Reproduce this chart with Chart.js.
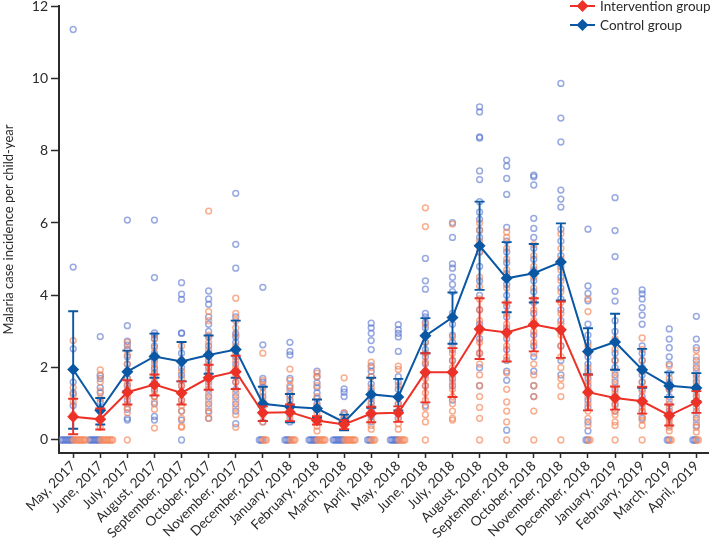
<!DOCTYPE html>
<html>
<head>
<meta charset="utf-8">
<script src="https://cdn.jsdelivr.net/npm/chart.js@4.4.1/dist/chart.umd.min.js"></script>
<style>
  html, body { margin: 0; padding: 0; background: #fff; }
  #wrap { position: relative; width: 714px; height: 542px; overflow: hidden; }
  #legend { position: absolute; left: 570px; top: -4px; font-family: Lato, sans-serif; font-size: 13.5px; color: #2a2a2a; }
  .row { display: flex; align-items: center; height: 19.5px; white-space: nowrap; }
  .row svg { margin-right: 5px; }
</style>
</head>
<body>
<div id="wrap">
  <canvas id="c" width="714" height="542"></canvas>
  <div id="legend"></div>
</div>
<script>
const categories = ['May, 2017','June, 2017','July, 2017','August, 2017','September, 2017','October, 2017','November, 2017','December, 2017','January, 2018','February, 2018','March, 2018','April, 2018','May, 2018','June, 2018','July, 2018','August, 2018','September, 2018','October, 2018','November, 2018','December, 2018','January, 2019','February, 2019','March, 2019','April, 2019'];
const yTicks = [0, 2, 4, 6, 8, 10, 12];
const seriesNames = ['Intervention group', 'Control group'];
const yTitle = 'Malaria case incidence per child-year';

const interventionMean = [0.64,0.57,1.32,1.53,1.30,1.72,1.89,0.75,0.77,0.54,0.43,0.73,0.75,1.87,1.87,3.07,2.97,3.19,3.05,1.32,1.16,1.07,0.68,1.04];
const interventionLow  = [0.16,0.29,0.98,1.23,0.98,1.39,1.41,0.52,0.52,0.43,0.30,0.49,0.50,1.04,1.19,2.24,2.17,2.45,2.27,0.82,0.84,0.73,0.40,0.75];
const interventionHigh = [1.14,0.87,1.65,1.81,1.62,2.08,2.33,0.93,0.98,0.66,0.55,0.92,0.93,2.40,2.54,3.92,3.80,3.92,3.83,1.81,1.48,1.47,0.98,1.35];

const controlMean = [1.95,0.82,1.89,2.31,2.17,2.35,2.50,1.00,0.92,0.87,0.49,1.26,1.19,2.88,3.39,5.37,4.47,4.61,4.92,2.45,2.71,1.94,1.50,1.44];
const controlLow  = [0.31,0.43,1.35,1.72,1.62,1.83,1.72,0.52,0.49,0.61,0.27,0.89,0.82,2.40,2.66,4.15,3.53,3.80,3.86,1.81,1.94,1.44,1.19,1.07];
const controlHigh = [3.56,1.16,2.47,2.94,2.71,2.89,3.30,1.47,1.27,1.12,0.70,1.72,1.69,3.37,4.08,6.59,5.47,5.42,5.99,3.09,3.49,2.52,1.87,1.85];

// Individual cluster incidences per month
const controlClusters = [
  [11.35,4.78,2.52,1.6,1.3,0.95,0,0,0,0,0,0,0,0,0],
  [2.86,1.78,1.7,1.45,1.3,1.05,0.8,0,0,0,0,0,0,0,0],
  [6.08,3.16,2.73,2.62,2.5,2.3,2.1,1.9,1.7,1.5,1.3,1.1,0.85,0.6,0.55],
  [6.08,4.49,2.96,2.9,2.8,2.6,2.4,2.2,2.0,1.85,1.6,1.4,1.2,1.0,0.65,0.55],
  [4.35,4.03,3.89,2.96,2.95,2.4,2.2,2.0,1.8,1.5,1.3,1.1,0.8,0.55,0],
  [4.12,3.9,3.75,3.4,3.2,3.0,2.85,2.6,2.4,2.2,2.0,1.8,1.6,1.4,1.2,1.0,0.8,0.6],
  [6.82,5.41,4.75,3.4,2.95,2.85,2.7,2.5,2.3,2.1,1.9,1.6,1.4,1.2,1.0,0.8,0.45],
  [4.22,2.63,1.7,1.6,1.45,1.2,1.0,0.75,0.5,0,0,0],
  [2.70,2.45,2.35,1.7,1.45,1.25,1.1,0.9,0.7,0.5,0,0,0,0],
  [1.9,1.75,1.58,1.45,1.3,1.15,1.0,0.85,0,0,0,0,0,0],
  [1.41,1.32,1.2,0.75,0.7,0.62,0.55,0.45,0,0,0,0,0,0,0,0],
  [3.23,3.1,2.95,2.75,2.5,2.05,1.9,1.75,1.55,1.35,1.15,1.0,0.85,0.65,0.5,0,0,0],
  [3.19,3.05,2.95,2.85,2.45,1.75,1.6,1.4,1.2,1.0,0.8,0.6,0,0,0,0,0,0],
  [5.02,4.4,4.17,3.5,3.4,3.25,3.1,2.9,2.7,2.5,2.3,2.1,1.8,1.5,0.95],
  [6.01,5.6,4.87,4.75,4.5,4.3,4.1,3.5,3.2,2.9,2.7,2.5,2.2,1.9,1.7,1.5,1.1],
  [9.21,9.07,8.38,8.35,7.44,7.2,6.59,6.3,6.1,5.8,5.6,5.2,4.8,4.4,4.0,3.6,3.2,2.8,2.4,2.0,1.5],
  [7.74,7.57,7.23,6.79,5.88,5.5,5.2,4.9,4.6,4.3,4.0,3.7,3.4,3.1,2.8,2.5,2.2,1.9,1.65,0.27],
  [7.32,7.28,7.05,6.13,5.85,5.6,5.3,5.0,4.7,4.4,4.1,3.8,3.5,3.2,2.9,2.6,2.3,1.9,1.5,1.2],
  [9.86,8.9,8.24,6.91,6.66,6.44,5.83,5.5,5.1,4.8,4.5,4.2,3.9,3.6,3.3,3.0,2.6,2.2,1.8],
  [5.83,4.26,4.05,3.85,3.2,2.9,2.7,2.5,2.3,2.1,1.9,1.7,1.5,1.3,1.1,0.9,0.5,0.25,0,0],
  [6.70,5.79,5.07,4.11,3.84,3.3,3.0,2.7,2.4,2.2,2.0,1.8,1.6,1.4,1.2,1.0,0.8],
  [4.15,4.04,3.9,3.66,3.45,3.2,2.6,2.4,2.2,2.0,1.8,1.6,1.4,1.2,1.0,0.8,0.6],
  [3.07,2.79,2.55,2.3,2.1,1.85,1.6,1.4,1.2,1.0,0.8,0.6,0.4,0,0],
  [3.42,2.79,2.55,2.2,2.0,1.8,1.6,1.4,1.2,1.0,0.8,0.6,0.4,0,0,0]
];
const interventionClusters = [
  [2.75,1.45,1.25,1.05,0.7,0,0,0,0,0,0,0,0,0],
  [1.94,1.8,1.6,1.35,1.15,0.55,0.35,0,0,0,0,0,0,0,0,0],
  [2.7,2.5,2.35,2.1,1.9,1.7,1.55,1.4,1.2,1.0,0.9,0.75,0],
  [2.8,2.55,2.3,2.1,1.95,1.75,1.55,1.35,1.2,1.05,0.85,0.33],
  [2.6,2.2,1.9,1.7,1.5,1.3,1.1,0.95,0.8,0.6,0.38,0.35],
  [6.33,3.55,3.3,2.9,2.7,2.5,2.3,2.1,1.9,1.7,1.5,1.3,1.1,0.9,0.75,0.6],
  [3.92,3.5,3.3,3.1,2.9,2.6,2.4,2.2,2.0,1.8,1.6,1.3,1.1,0.9,0.7,0.35],
  [2.4,1.65,1.5,1.3,1.1,0.9,0.7,0.5,0,0,0],
  [1.96,1.65,1.5,1.35,1.2,1.0,0.8,0.6,0,0,0,0],
  [1.85,1.75,1.5,1.2,0.95,0.75,0.38,0.25,0,0,0,0,0,0],
  [1.72,0.75,0.6,0.5,0.35,0,0,0,0,0,0,0,0],
  [2.15,2.0,1.75,1.45,1.25,1.05,0.9,0.75,0.55,0.4,0.3,0,0,0],
  [2.04,1.95,1.5,1.2,1.0,0.8,0.6,0.45,0.3,0,0,0,0,0],
  [6.42,5.9,3.2,2.7,2.4,2.15,1.9,1.7,1.5,1.3,1.1,0.9,0.7,0.5,0],
  [5.97,2.85,2.6,2.4,2.2,2.0,1.8,1.6,1.4,1.2,1.0,0.8,0.6,0.55],
  [6.0,5.8,5.5,5.2,4.5,4.25,3.9,3.6,3.3,3.0,2.7,2.4,2.1,1.8,1.5,1.2,0.9,0.6,0],
  [5.75,5.6,5.3,5.0,4.7,4.5,4.2,3.8,3.5,3.2,2.9,2.6,2.3,1.85,1.4,1.05,0.8,0.5,0],
  [5.4,5.1,4.8,4.5,4.2,3.9,3.6,3.3,3.0,2.7,2.4,2.1,1.8,1.5,1.2,0.8,0],
  [5.7,5.3,5.0,4.7,4.4,4.1,3.8,3.5,3.2,2.9,2.6,2.3,2.0,1.7,1.5,1.2,0],
  [3.9,3.55,2.6,2.4,2.0,1.8,1.6,1.4,1.2,1.0,0.8,0.6,0.4,0,0],
  [2.8,2.5,2.2,1.9,1.7,1.5,1.3,1.1,0.95,0.8,0.7,0.5,0.4,0],
  [2.82,2.5,2.2,1.9,1.6,1.35,1.1,0.9,0.8,0.65,0.55,0.4,0],
  [2.05,1.7,1.4,1.1,0.9,0.7,0.55,0.45,0.35,0.25,0,0],
  [2.48,2.3,2.1,1.9,1.7,1.5,1.3,1.1,0.9,0.7,0.5,0.35,0.22,0,0]
];

const RED = 'rgb(236,49,39)';
const BLUE = 'rgb(10,87,164)';
const RED_PT = 'rgba(246,135,92,0.68)';
const BLUE_PT = 'rgba(88,118,206,0.62)';
const FONT = "Lato, sans-serif";
const ZSTEP = 0.055;

// zero-valued clusters are spread sideways (control to the left, intervention to the right)
function clusterPoints(clusters, side) {
  const pts = [];
  clusters.forEach((vals, i) => {
    const zeros = vals.filter(v => v === 0).length;
    let k = 0;
    vals.forEach(v => {
      if (v === 0) {
        const off = zeros === 1 ? 0 : side * (0.02 + k * ZSTEP);
        pts.push({ x: i + off, y: v });
        k++;
      } else {
        pts.push({ x: i, y: v });
      }
    });
  });
  return pts;
}

const errorBars = {
  id: 'errorBars',
  beforeDatasetDraw(chart, args) {
    const ds = chart.data.datasets[args.index];
    if (!ds.errLow) return;
    const { ctx } = chart;
    const x = chart.scales.x, y = chart.scales.y;
    ctx.save();
    ctx.strokeStyle = ds.borderColor;
    ctx.lineWidth = 1.9;
    ds.errLow.forEach((lo, i) => {
      const px = x.getPixelForValue(i);
      const pl = y.getPixelForValue(lo);
      const ph = y.getPixelForValue(ds.errHigh[i]);
      ctx.beginPath();
      ctx.moveTo(px, pl); ctx.lineTo(px, ph);
      ctx.moveTo(px - 5, pl); ctx.lineTo(px + 5, pl);
      ctx.moveTo(px - 5, ph); ctx.lineTo(px + 5, ph);
      ctx.stroke();
    });
    ctx.restore();
  }
};

new Chart(document.getElementById('c'), {
  type: 'line',
  data: {
    datasets: [
      {
        label: seriesNames[0],
        data: interventionMean.map((v, i) => ({ x: i, y: v })),
        errLow: interventionLow, errHigh: interventionHigh,
        borderColor: RED, backgroundColor: RED,
        borderWidth: 2, pointStyle: 'rectRot', pointRadius: 6,
        pointBorderWidth: 0, tension: 0, order: 0
      },
      {
        label: seriesNames[1],
        data: controlMean.map((v, i) => ({ x: i, y: v })),
        errLow: controlLow, errHigh: controlHigh,
        borderColor: BLUE, backgroundColor: BLUE,
        borderWidth: 2, pointStyle: 'rectRot', pointRadius: 6,
        pointBorderWidth: 0, tension: 0, order: 1
      },
      {
        type: 'scatter',
        label: seriesNames[0] + ' clusters',
        data: clusterPoints(interventionClusters, 1),
        borderColor: RED_PT, backgroundColor: 'rgba(0,0,0,0)',
        pointRadius: 2.9, borderWidth: 1.5, showLine: false, order: 2
      },
      {
        type: 'scatter',
        label: seriesNames[1] + ' clusters',
        data: clusterPoints(controlClusters, -1),
        borderColor: BLUE_PT, backgroundColor: 'rgba(0,0,0,0)',
        pointRadius: 2.9, borderWidth: 1.5, showLine: false, order: 3
      }
    ]
  },
  options: {
    responsive: false,
    animation: false,
    events: [],
    layout: { padding: 0 },
    plugins: { legend: { display: false }, tooltip: { enabled: false } },
    scales: {
      x: {
        type: 'linear',
        min: -0.523, max: 23.43,
        afterBuildTicks(axis) { axis.ticks = categories.map((c, i) => ({ value: i })); },
        afterFit(scale) { scale.height = 89; scale.paddingLeft = 0; scale.paddingRight = 0; },
        border: { display: true, color: '#2b2b2b', width: 2 },
        grid: { display: true, drawOnChartArea: false, drawTicks: true, tickLength: 5, tickColor: '#2b2b2b', tickWidth: 1.5 },
        ticks: {
          autoSkip: false, minRotation: 45, maxRotation: 45, padding: 0,
          color: '#2a2a2a', font: { family: FONT, size: 13.5 },
          callback: (v) => categories[Math.round(v)]
        }
      },
      y: {
        type: 'linear',
        min: -0.36, max: 12,
        afterBuildTicks(axis) { axis.ticks = yTicks.map(v => ({ value: v })); },
        afterFit(scale) { scale.width = 59; scale.paddingTop = 6; scale.paddingBottom = 0; },
        border: { display: true, color: '#2b2b2b', width: 2 },
        grid: { display: true, drawOnChartArea: false, drawTicks: true, tickLength: 8, tickColor: '#2b2b2b', tickWidth: 1.5 },
        ticks: { padding: 3, color: '#2a2a2a', font: { family: FONT, size: 14 } },
        title: { display: true, text: yTitle, color: '#2a2a2a', font: { family: FONT, size: 13 }, padding: { top: 1, bottom: 2 } }
      }
    }
  },
  plugins: [errorBars]
});

// Legend (HTML, real text)
const legendEl = document.getElementById('legend');
[[seriesNames[0], RED], [seriesNames[1], BLUE]].forEach(([name, col]) => {
  const row = document.createElement('div');
  row.className = 'row';
  row.innerHTML = '<svg width="25" height="14"><line x1="0" y1="7" x2="25" y2="7" stroke="' + col + '" stroke-width="2"/><polygon points="12.5,1 18.5,7 12.5,13 6.5,7" fill="' + col + '"/></svg>';
  const t = document.createElement('span');
  t.textContent = name;
  row.appendChild(t);
  legendEl.appendChild(row);
});
</script>
</body>
</html>
